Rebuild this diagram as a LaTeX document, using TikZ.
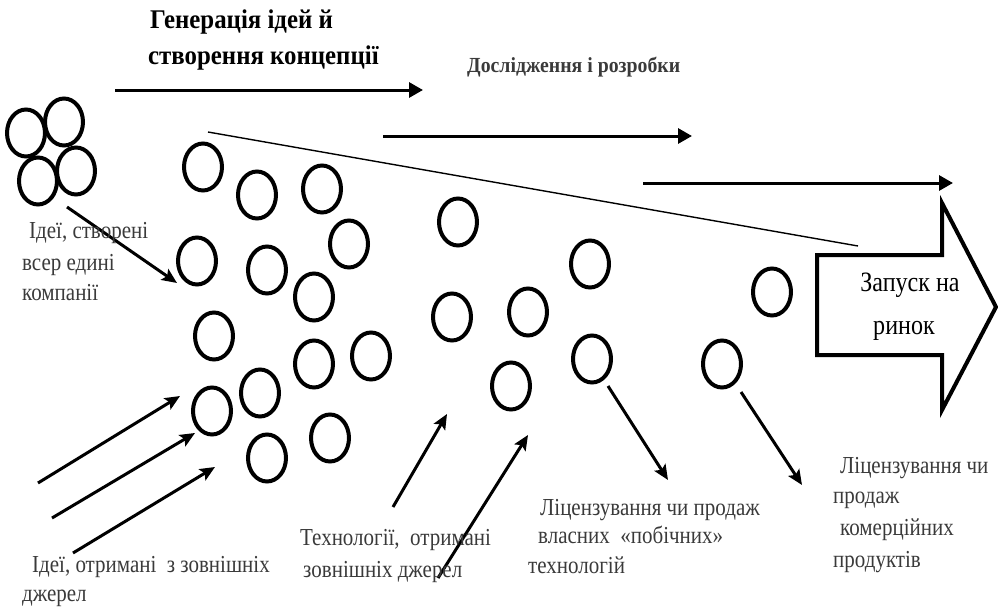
\documentclass[tikz,border=0pt]{standalone}
\usepackage{fontspec}
\setmainfont{Liberation Serif}
\newfontfamily\lblfont[FakeStretch=0.86]{Liberation Serif}
\newfontfamily\ttlfont[FakeStretch=0.92]{Liberation Serif}
\usetikzlibrary{arrows.meta,shapes.geometric}
\definecolor{txtgray}{HTML}{3A3A3A}
\begin{document}
\begin{tikzpicture}[x=1pt,y=-1pt,
  idea/.style={ellipse,draw,line width=4pt,minimum width=38pt,minimum height=47pt,inner sep=0pt},
  hflow/.style={line width=3pt,-{Triangle[length=14pt,width=15pt]}},
  dflow/.style={line width=3pt,-{Stealth[length=15pt,width=13pt,inset=3pt]}},
  lbl/.style={anchor=base west,inner sep=0pt,text=txtgray,font=\lblfont\fontsize{24.4}{28}\selectfont},
  ttl/.style={anchor=base west,inner sep=0pt,font=\ttlfont\bfseries\fontsize{27}{32}\selectfont},
  sub/.style={anchor=base west,inner sep=0pt,text=txtgray,font=\ttlfont\bfseries\fontsize{21.5}{26}\selectfont},
  big/.style={anchor=base,inner sep=0pt,font=\lblfont\fontsize{28}{32}\selectfont}]
\useasboundingbox (0,0) rectangle (998,613);

% titles
\node[ttl] (tA) at (150,28) {Генерація ідей й};
\node[ttl] (tB) at (148,64) {створення концепції};
\node[sub] (tC) at (467,72) {Дослідження і розробки};

% horizontal stage arrows
\coordinate (h1s) at (115,90);  \coordinate (h1e) at (423,90);
\coordinate (h2s) at (383,136); \coordinate (h2e) at (692,136);
\coordinate (h3s) at (643,183); \coordinate (h3e) at (953,183);
\draw[hflow] (h1s) -- (h1e);
\draw[hflow] (h2s) -- (h2e);
\draw[hflow] (h3s) -- (h3e);

% funnel line
\coordinate (fs) at (208,132); \coordinate (fe) at (858,246);
\draw[line width=1.4pt] (fs) -- (fe);

% internal cluster (top-left)
\node[idea] (k1) at (26,133) {};
\node[idea] (k2) at (64,122) {};
\node[idea] (k3) at (38,181) {};
\node[idea] (k4) at (76,171) {};

% ideas
\node[idea] (cA) at (203,167) {};
\node[idea] (cB) at (257,195) {};
\node[idea] (cC) at (322,189) {};
\node[idea] (cD) at (349,244) {};
\node[idea] (cE) at (197,261) {};
\node[idea] (cF) at (267,270) {};
\node[idea] (cG) at (314,297) {};
\node[idea] (cH) at (214,336) {};
\node[idea] (cI) at (314,364) {};
\node[idea] (cJ) at (371,356) {};
\node[idea] (cK) at (260,393) {};
\node[idea] (cL) at (212,411) {};
\node[idea] (cM) at (330,438) {};
\node[idea] (cN) at (267,458) {};
\node[idea] (cO) at (458,222) {};
\node[idea] (cP) at (590,264) {};
\node[idea] (cQ) at (452,317) {};
\node[idea] (cR) at (528,312) {};
\node[idea] (cS) at (772,292) {};
\node[idea] (cT) at (511,386) {};
\node[idea] (cU) at (592,359) {};
\node[idea] (cV) at (722,364) {};

% launch arrow
\draw[line width=4pt,line join=miter]
  (817,255) -- (942,255) -- (942,203) -- (996,307) -- (942,410) -- (942,355) -- (817,355) -- cycle;
\node[big] (lA) at (910,291) {Запуск на};
\node[big] (lB) at (904,334) {ринок};

% arrow from internal cluster
\coordinate (a0s) at (67,207); \coordinate (a0e) at (177,283);
\draw[dflow] (a0s) -- (a0e);

% external idea arrows
\coordinate (a1s) at (38,483); \coordinate (a1e) at (180,396);
\coordinate (a2s) at (52,518); \coordinate (a2e) at (195,433);
\coordinate (a3s) at (73,553); \coordinate (a3e) at (215,467);
\draw[dflow] (a1s) -- (a1e);
\draw[dflow] (a2s) -- (a2e);
\draw[dflow] (a3s) -- (a3e);

% external technology arrows
\coordinate (a4s) at (393,507); \coordinate (a4e) at (447,414);
\coordinate (a5s) at (438,578); \coordinate (a5e) at (528,435);
\draw[dflow] (a4s) -- (a4e);
\draw[dflow] (a5s) -- (a5e);

% out-licensing arrows
\coordinate (a6s) at (608,386); \coordinate (a6e) at (668,480);
\coordinate (a7s) at (741,392); \coordinate (a7e) at (802,485);
\draw[dflow] (a6s) -- (a6e);
\draw[dflow] (a7s) -- (a7e);

% labels
\node[lbl] (iA) at (29,238) {Ідеї, створені};
\node[lbl] (iB) at (22,270) {всер едині};
\node[lbl] (iC) at (22,300) {компанії};

\node[lbl] (eA) at (32,572) {Ідеї, отримані\ \ з зовнішніх};
\node[lbl] (eB) at (22,601) {джерел};

\node[lbl] (gA) at (300,545) {Технології,\ \ отримані};
\node[lbl] (gB) at (303,577) {зовнішніх джерел};

\node[lbl] (pA) at (540,515) {Ліцензування чи продаж};
\node[lbl] (pB) at (538,543) {власних\ \ «побічних»};
\node[lbl] (pC) at (528,573) {технологій};

\node[lbl] (qA) at (840,473) {Ліцензування чи};
\node[lbl] (qB) at (833,503) {продаж};
\node[lbl] (qC) at (840,535) {комерційних};
\node[lbl] (qD) at (833,567) {продуктів};
\end{tikzpicture}
\end{document}
